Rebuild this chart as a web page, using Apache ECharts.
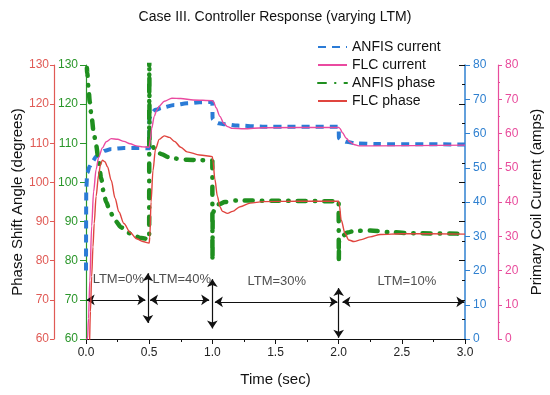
<!DOCTYPE html>
<html><head><meta charset="utf-8">
<script src="https://cdn.jsdelivr.net/npm/echarts/dist/echarts.min.js"></script>
<style>html,body{margin:0;padding:0;background:#fff}#c{width:550px;height:395px}</style>
</head><body><div id="c"></div>
<script>
// ---- data (time in sec, phase in degrees, current in amps) ----
const anfisCurrentT = [0, 0.002, 0.01, 0.03, 0.05, 0.08, 0.11, 0.15, 0.2, 0.3, 0.4, 0.5,
  0.502, 0.52, 0.55, 0.6, 0.7, 0.8, 0.9, 1.0,
  1.002, 1.02, 1.05, 1.1, 1.2, 1.4, 2.0,
  2.002, 2.03, 2.06, 2.14, 2.3, 3.0];
const anfisCurrent = [20, 44, 48.5, 50.5, 51.8, 53.2, 54.2, 55.0, 55.5, 55.8, 55.8, 55.7,
  64.5, 66.0, 66.9, 67.5, 68.3, 68.8, 69.1, 69.2,
  64.2, 63.4, 63.0, 62.7, 62.3, 62.0, 62.0,
  58.6, 58.0, 57.6, 57.1, 56.9, 56.8];

const flcCurrentT = [0, 0.012, 0.02, 0.03, 0.045, 0.06, 0.08, 0.1, 0.13, 0.16, 0.2, 0.25, 0.3, 0.35, 0.4, 0.45, 0.5,
  0.51, 0.52, 0.54, 0.56, 0.58, 0.62, 0.68, 0.75, 0.85, 1.0,
  1.01, 1.03, 1.06, 1.09, 1.12, 1.16, 1.25, 1.4, 2.0,
  2.01, 2.03, 2.06, 2.09, 2.12, 2.16, 2.3, 3.0];
const flcCurrent = [0, 0, 6, 17, 33, 43, 49.5, 53, 55.8, 57.6, 58.5, 58.3, 57.7, 57.0, 56.4, 56.1, 56.0,
  58.5, 61.5, 65, 66.8, 68.0, 69.4, 70.3, 70.2, 69.8, 69.6,
  69.2, 67.5, 65, 63, 62, 61.5, 61.4, 61.7, 61.8,
  61.5, 60.2, 58.6, 57.5, 56.8, 56.4, 56.4, 56.6];

const anfisPhaseT = [0, 0.01, 0.02, 0.03, 0.045, 0.06, 0.08, 0.1, 0.12, 0.14, 0.16, 0.19, 0.23, 0.28, 0.33, 0.38, 0.44, 0.5,
  0.501, 0.503, 0.52, 0.55, 0.6, 0.65, 0.7, 0.8, 0.9, 1.0,
  1.001, 1.003, 1.02, 1.05, 1.1, 1.2, 1.5, 2.0,
  2.001, 2.003, 2.03, 2.07, 2.12, 2.25, 2.4, 2.6, 3.0];
const anfisPhase = [136, 128, 124, 120.5, 116.5, 113, 109.5, 105.5, 101, 97.5, 95, 92.5, 90.2, 88.5, 87.2, 86.3, 85.8, 85.5,
  135, 111, 109.5, 108.2, 107.2, 106.5, 106.1, 105.8, 105.7, 105.6,
  80, 92, 93.5, 94.4, 95.0, 95.4, 95.3, 95.2,
  79.5, 85.3, 86.3, 87.2, 87.6, 87.7, 87.3, 87.0, 86.9];

const flcPhaseT = [0, 0.015, 0.025, 0.035, 0.045, 0.055, 0.065, 0.08, 0.1, 0.115, 0.13, 0.15, 0.17, 0.2, 0.23, 0.26, 0.3, 0.35, 0.4, 0.45, 0.5,
  0.505, 0.515, 0.53, 0.55, 0.58, 0.62, 0.66, 0.7, 0.75, 0.8, 0.9, 1.0,
  1.005, 1.02, 1.04, 1.06, 1.08, 1.12, 1.16, 1.22, 1.3, 1.4, 1.7, 2.0,
  2.005, 2.02, 2.05, 2.08, 2.12, 2.18, 2.25, 2.33, 2.5, 3.0];
const flcPhase = [30, 45, 56, 67, 76, 83.5, 89.5, 96.5, 102, 104.6, 105.7, 105.3, 104, 100.5, 96, 92.5, 89.5, 87.2, 85.6, 84.9, 84.5,
  86, 95, 103, 108.5, 111, 111.9, 111.5, 110.5, 109, 107.8, 107, 106.6,
  105.5, 100.8, 96.5, 93.8, 92.6, 92.1, 92.6, 93.8, 94.7, 95.1, 95.2, 95.2,
  94.3, 90.4, 87, 85.3, 84.9, 85.4, 86.1, 86.7, 86.9, 86.8];

// annotations (time, degrees)
const hArrows = [[[0.005, 70], [0.47, 70]], [[0.507, 70], [0.975, 70]], [[1.02, 69.5], [1.99, 69.5]], [[2.03, 69.5], [2.995, 69.5]]];
const vArrows = [[[0.49, 76.8], [0.49, 64.1]], [[1.0, 75.3], [1.0, 62.7]], [[2.0, 73], [2.0, 60.3]]];
const ltmLabels = [[0.256, 75.1, 'LTM=0%'], [0.758, 75.1, 'LTM=40%'], [1.51, 74.6, 'LTM=30%'], [2.54, 74.6, 'LTM=10%']];

const seriesNames = ['ANFIS current', 'FLC current', 'ANFIS phase', 'FLC phase'];

const zip = (t, v) => t.map((x, i) => [x, v[i]]);
const FONT = 'Liberation Sans, Arial, sans-serif';
const C = { blue: '#2b7bd6', pink: '#ea4aa0', green: '#1f8f1f', red: '#e0453f',
  axBlue: '#2f80d0', axPink: '#e84c9c', axGreen: '#2a962a', axRed: '#e05a55' };

const chart = echarts.init(document.getElementById('c'), null, { renderer: 'canvas' });
const yBase = (min, max, interval) => ({ type: 'value', min, max, interval, splitLine: { show: false } });

chart.setOption({
  animation: false,
  textStyle: { fontFamily: FONT },
  title: { text: 'Case III. Controller Response (varying LTM)', left: 'center', top: 5,
    textStyle: { fontSize: 14, fontWeight: 'normal', color: '#111', fontFamily: FONT } },
  legend: {
    data: seriesNames, orient: 'vertical', left: 312, top: 35, itemWidth: 29, itemHeight: 14, itemGap: 4,
    itemStyle: { opacity: 0 },
    textStyle: { fontSize: 14, color: '#111', fontFamily: FONT }
  },
  grid: { left: 86, right: 85, top: 65, bottom: 56, outerBoundsMode: 'none', containLabel: false },
  xAxis: {
    type: 'value', min: 0, max: 3, interval: 0.5,
    name: 'Time (sec)', nameLocation: 'middle', nameGap: 33,
    nameTextStyle: { fontSize: 15, color: '#111', fontFamily: FONT },
    axisLine: { lineStyle: { color: '#111', width: 1 } },
    axisTick: { length: 5, lineStyle: { color: '#111' } },
    minorTick: { show: true, splitNumber: 2, length: 3, lineStyle: { color: '#111' } },
    axisLabel: { fontSize: 12, color: '#222', margin: 8, formatter: v => v.toFixed(1) },
    splitLine: { show: false }
  },
  yAxis: [
    Object.assign(yBase(60, 130, 10), { position: 'left', offset: 0,
      axisLine: { show: true, lineStyle: { color: C.axGreen, width: 1.2 } },
      axisTick: { show: true, length: 6, lineStyle: { color: C.axGreen } },
      axisLabel: { fontSize: 12, color: C.axGreen, margin: 8 } }),
    Object.assign(yBase(60, 130, 10), { position: 'left', offset: 32,
      name: 'Phase Shift Angle (degrees)', nameLocation: 'middle', nameGap: 29, nameMoveOverlap: false,
      nameTextStyle: { fontSize: 15, color: '#111', fontFamily: FONT },
      axisLine: { show: true, lineStyle: { color: C.axRed, width: 1.2 } },
      axisTick: { show: true, length: 4, lineStyle: { color: C.axRed } },
      axisLabel: { fontSize: 12, color: C.axRed, margin: 5 } }),
    Object.assign(yBase(0, 80, 10), { position: 'right', offset: 0,
      axisLine: { show: true, lineStyle: { color: C.axBlue, width: 1.5 } },
      axisTick: { show: true, length: 5, lineStyle: { color: C.axBlue } },
      axisLabel: { fontSize: 12, color: C.axBlue, margin: 8 } }),
    Object.assign(yBase(0, 80, 10), { position: 'right', offset: 33,
      name: 'Primary Coil Current (amps)', nameLocation: 'middle', nameGap: 29, nameRotate: 90,
      nameTextStyle: { fontSize: 15, color: '#111', fontFamily: FONT },
      axisLine: { show: true, lineStyle: { color: C.axPink, width: 1.2 } },
      axisTick: { show: true, length: 4, lineStyle: { color: C.axPink } },
      minorTick: { show: true, splitNumber: 2, length: 2, lineStyle: { color: C.axPink } },
      axisLabel: { fontSize: 12, color: C.axPink, margin: 7 } }),
    Object.assign(yBase(60, 130, 10), { position: 'right', offset: 0,
      axisLine: { show: false },
      axisTick: { show: true, inside: true, length: 6, lineStyle: { color: '#111' } },
      minorTick: { show: true, splitNumber: 2, length: 3, lineStyle: { color: '#111' } },
      axisLabel: { show: false } })
  ],
  series: [
    { name: 'ANFIS current', type: 'line', yAxisIndex: 2, data: zip(anfisCurrentT, anfisCurrent),
      symbol: 'none', smooth: 0.3, smoothMonotone: 'x', clip: true, color: C.blue,
      lineStyle: { color: C.blue, width: 4, type: [8, 6] }, z: 2 },
    { name: 'ANFIS phase', type: 'line', yAxisIndex: 0, data: zip(anfisPhaseT, anfisPhase),
      symbol: 'none', smooth: 0.3, smoothMonotone: 'x', clip: true, color: C.green,
      lineStyle: { color: C.green, width: 4.5, type: [8, 9, 0.5, 9], cap: 'round' }, z: 3 },
    { name: 'FLC current', type: 'line', yAxisIndex: 2, data: zip(flcCurrentT, flcCurrent),
      symbol: 'none', smooth: 0.3, smoothMonotone: 'x', clip: true, color: C.pink,
      lineStyle: { color: C.pink, width: 1.4 }, z: 4 },
    { name: 'FLC phase', type: 'line', yAxisIndex: 0, data: zip(flcPhaseT, flcPhase),
      symbol: 'none', smooth: 0.3, smoothMonotone: 'x', clip: true, color: C.red,
      lineStyle: { color: C.red, width: 1.4 }, z: 5 },
    { name: 'arrows', type: 'line', yAxisIndex: 0, data: [[0, 70]], showSymbol: false, symbol: 'none',
      lineStyle: { opacity: 0 }, z: 6,
      markLine: { silent: true, symbol: ['arrow', 'arrow'], symbolSize: 8, animation: false,
        label: { show: false }, emphasis: { disabled: true },
        lineStyle: { color: '#111', width: 1.2, type: 'solid' },
        data: hArrows.concat(vArrows).map(p => [{ coord: p[0] }, { coord: p[1] }]) } },
    { name: 'labels', type: 'scatter', yAxisIndex: 0, data: ltmLabels, symbolSize: 1,
      itemStyle: { color: 'rgba(0,0,0,0)' }, z: 7,
      label: { show: true, position: 'inside', formatter: p => p.data[2], fontSize: 13, color: '#222', fontFamily: FONT } }
  ]
});
</script></body></html>
